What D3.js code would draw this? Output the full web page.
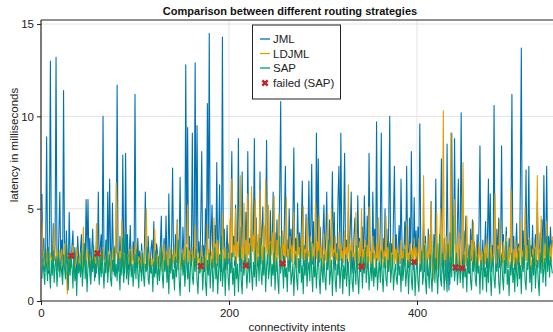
<!DOCTYPE html>
<html><head><meta charset="utf-8">
<script src="https://cdn.jsdelivr.net/npm/d3@7/dist/d3.min.js"></script>
<style>html,body{margin:0;padding:0;background:#fff;overflow:hidden}svg{display:block;font-family:"Liberation Sans",Arial,Helvetica,sans-serif}</style>
</head><body><svg id="c" width="553" height="332"></svg>
<script>
const title = "Comparison between different routing strategies";
const xLabel = "connectivity intents";
const yLabel = "latency in milliseconds";
const seriesNames = ["JML", "LDJML", "SAP"];
const seriesColors = ["#0072B2", "#E69F00", "#009E73"];
const failedLabel = "failed (SAP)";
const xTicks = [0, 200, 400];
const yTicks = [0, 5, 10, 15];

const jml = [
5.8,2.1,3.4,1.6,2.8,8.9,2.3,1.5,3.9,13.0,2.6,1.8,4.2,2.2,3.1,13.2,2.4,1.7,3.6,5.9,
2.0,3.3,1.4,11.4,2.7,1.9,3.8,2.2,1.3,4.8,2.5,1.8,3.0,3.8,1.6,2.9,2.1,1.2,3.5,2.4,
1.7,2.8,3.6,1.5,2.3,3.1,1.9,5.5,2.6,5.5,2.0,3.4,1.4,2.7,3.9,1.8,2.5,1.3,3.2,2.2,
5.9,1.7,2.9,3.6,1.5,10.0,2.4,1.9,3.3,2.1,5.9,1.6,6.6,2.8,1.9,5.3,2.3,1.4,3.0,2.6,
11.7,2.0,1.6,3.5,2.4,1.8,7.9,2.9,1.5,8.0,2.2,3.6,1.7,2.6,4.1,1.9,2.4,3.2,1.5,11.2,
2.3,1.8,3.4,2.0,2.7,1.6,3.1,2.2,1.4,2.9,5.9,2.1,1.7,3.5,2.4,1.6,2.8,3.3,1.9,4.3,
2.0,1.5,3.1,2.6,1.8,2.4,3.0,4.6,1.7,2.5,3.4,1.9,4.6,2.2,1.6,5.8,2.7,2.0,3.3,7.2,
2.4,1.8,3.6,2.1,4.4,1.7,2.9,6.7,2.3,1.9,4.0,2.6,1.5,12.8,3.1,9.4,2.0,3.5,1.8,2.7,
9.1,2.2,3.8,12.9,1.9,9.5,2.6,3.2,1.7,4.4,8.1,2.3,3.0,1.6,5.0,2.5,10.7,3.4,14.5,2.1,
3.7,5.2,1.8,2.9,4.1,2.3,7.5,1.9,3.3,6.3,2.4,1.6,14.3,2.8,3.9,1.7,2.5,4.1,2.0,3.1,
1.8,4.6,8.1,2.4,3.5,1.9,5.2,2.7,3.0,8.8,2.2,4.0,1.6,7.0,2.9,3.6,2.1,4.8,1.9,8.1,
2.6,3.4,1.8,5.5,2.7,3.9,8.8,2.1,4.5,1.9,3.2,2.6,7.0,2.0,3.8,5.1,1.7,2.9,4.2,8.7,
2.3,3.5,1.8,4.9,2.6,3.1,5.9,2.0,3.7,1.6,4.4,2.5,3.2,6.0,10.8,2.2,3.6,1.9,4.5,7.3,
2.4,3.3,1.7,5.0,2.8,3.9,2.1,4.6,8.3,2.0,3.4,1.8,5.3,2.6,3.7,2.2,4.1,6.5,1.9,3.0,
2.4,4.7,1.7,3.5,6.5,2.3,3.9,7.4,2.0,4.3,2.7,1.8,9.1,3.2,7.7,2.1,4.0,2.6,1.6,3.7,
5.2,2.2,3.4,5.9,1.8,2.9,4.4,2.3,3.6,7.0,2.0,4.8,1.7,3.1,2.5,5.6,7.3,2.2,9.1,3.0,
1.9,4.2,8.0,2.4,3.3,1.7,4.9,2.6,3.8,5.9,2.1,1.5,3.6,4.5,2.3,1.8,5.7,2.9,3.4,1.6,
2.5,4.0,2.0,5.7,3.1,1.8,4.6,2.4,8.0,3.3,2.0,1.6,5.9,2.7,3.9,1.9,9.7,2.5,3.6,1.7,
4.2,9.1,2.3,3.4,1.8,5.0,2.6,3.9,1.6,4.4,10.0,2.2,3.1,1.9,4.7,7.3,2.4,3.6,1.7,2.9,
4.1,2.0,6.6,3.3,1.6,2.6,4.3,2.2,7.3,3.0,1.8,4.5,2.4,8.1,3.2,1.7,5.6,2.5,3.8,1.9,
4.0,2.7,9.6,3.1,1.8,2.5,4.2,1.6,3.5,2.2,1.4,3.9,2.6,1.7,5.4,2.3,1.2,3.6,2.0,6.6,
1.8,3.1,1.3,2.7,4.0,7.7,2.1,1.5,3.4,2.4,1.1,8.5,2.9,0.6,3.7,2.2,9.1,1.9,3.3,8.8,
2.5,1.6,4.2,6.6,2.0,3.5,10.2,2.3,1.7,3.8,2.6,4.6,1.9,3.1,2.4,1.5,3.9,2.2,4.4,1.8,
3.2,2.5,1.6,3.6,2.1,4.1,8.4,2.4,1.7,3.3,2.0,2.8,4.3,1.8,3.5,6.6,2.3,5.8,1.6,3.0,
2.2,10.6,2.6,1.7,3.9,2.3,4.5,1.8,3.2,8.4,2.1,3.6,1.5,2.7,4.0,2.2,1.8,3.4,2.5,4.6,
11.2,2.3,3.5,1.7,2.8,4.2,2.0,3.1,1.6,6.5,13.7,2.4,3.8,1.9,2.6,7.1,2.2,3.4,7.3,1.8,
3.0,2.4,4.1,1.7,2.9,3.6,2.1,5.4,2.5,1.8,3.7,2.3,4.4,1.9,6.8,2.6,3.2,7.3,2.0,3.5,
2.4,4.0,2.8,3.3];

const ldjml = [
4.3,2.9,2.4,1.9,2.2,2.8,2.1,1.7,2.0,2.6,2.3,1.8,2.5,4.1,2.2,1.9,2.7,2.4,1.6,2.1,
2.5,2.8,1.9,2.2,3.1,2.0,1.6,0.4,2.3,2.6,1.8,2.1,2.4,3.0,2.2,1.7,2.0,2.9,2.3,1.8,
2.2,2.6,2.0,1.7,4.0,2.4,2.1,1.9,2.8,2.3,1.8,2.5,2.2,1.6,2.0,2.7,2.3,1.9,4.2,2.4,
2.0,1.8,2.6,2.2,1.7,2.9,2.3,2.0,1.6,2.4,2.1,2.7,1.9,2.2,1.5,2.8,2.4,2.0,2.6,6.4,
2.5,1.9,2.3,2.7,2.0,4.4,2.2,1.8,2.6,2.1,1.7,2.4,2.0,2.8,2.3,1.6,3.0,2.2,1.9,2.5,
3.2,2.1,1.8,2.4,2.2,1.6,2.7,2.0,2.3,1.8,2.9,5.0,2.4,1.9,2.6,2.2,1.5,2.3,2.0,1.8,
3.9,2.2,1.7,2.5,2.0,1.9,2.8,2.3,1.6,2.4,3.1,2.0,2.2,2.7,1.8,2.1,2.9,2.3,1.7,2.5,
2.1,3.0,1.9,2.3,4.3,1.8,2.6,2.2,1.7,2.8,2.4,1.9,3.2,2.1,2.5,5.2,2.0,2.7,2.3,1.9,
2.9,2.2,1.7,4.1,2.4,1.9,2.6,2.1,2.3,1.6,3.0,2.2,1.9,2.5,2.3,1.7,4.2,2.1,2.8,1.9,
2.4,2.7,1.8,4.5,2.2,3.1,2.0,3.3,2.4,1.8,2.7,2.1,4.8,2.5,1.9,2.9,2.2,1.7,2.6,2.3,
4.4,2.1,6.6,2.6,3.0,2.2,5.0,2.0,3.2,2.4,3.8,6.8,2.3,2.9,1.9,5.3,2.4,3.3,2.0,5.8,
2.5,3.1,2.0,6.2,2.7,3.5,2.1,5.5,2.8,1.9,3.6,2.4,6.0,2.2,3.0,2.0,4.1,2.6,6.6,2.9,
2.2,5.2,2.0,3.2,2.5,3.7,2.2,5.7,2.7,1.8,3.3,2.3,4.7,2.1,2.9,2.0,3.8,2.5,3.1,1.9,
5.6,2.4,2.8,1.9,3.5,2.3,3.0,2.0,4.8,2.2,2.7,1.8,3.6,2.5,2.9,2.0,3.4,2.3,5.1,2.1,
2.8,1.9,4.5,2.4,2.7,2.0,3.5,2.2,3.1,1.8,2.8,5.4,2.3,3.2,1.9,4.6,2.2,2.9,1.8,2.5,
3.6,2.2,2.7,1.9,4.7,2.3,3.0,1.8,5.0,2.4,2.8,2.0,3.5,2.2,2.6,1.8,3.7,2.4,3.1,1.9,
2.7,2.1,3.8,2.0,2.9,2.3,6.3,2.1,3.1,1.8,3.4,2.4,2.6,1.9,4.8,2.2,2.9,1.8,3.2,2.2,
5.0,2.0,2.8,2.3,3.3,1.8,3.0,2.2,5.1,2.1,2.7,1.9,3.5,2.3,2.6,1.8,3.1,2.2,4.5,2.0,
2.8,2.4,3.4,1.9,2.7,2.2,4.6,1.8,2.9,2.1,3.2,1.8,2.6,2.3,3.5,2.0,2.8,2.1,3.0,1.7,
2.5,2.2,3.3,1.8,2.7,2.3,3.0,1.9,4.3,2.1,2.6,1.8,3.1,2.3,2.8,2.0,3.4,2.2,2.9,1.8,
2.4,3.4,2.0,2.8,1.7,2.5,6.8,2.2,3.1,1.9,2.7,2.3,3.6,1.8,5.3,2.1,1.1,2.9,2.0,2.4,
4.8,1.7,2.7,2.2,5.0,1.9,2.9,10.3,2.3,1.8,3.5,2.5,1.6,3.2,2.1,9.1,2.4,1.9,2.8,5.5,
2.1,3.1,1.8,2.5,3.7,2.2,1.7,2.9,7.5,2.0,2.6,1.9,4.6,2.3,1.6,2.8,2.1,3.3,1.9,4.3,
2.4,1.9,2.9,2.1,1.7,3.2,2.3,1.9,2.7,2.4,1.6,3.0,2.0,3.4,2.2,1.8,2.8,2.1,3.1,1.9,
2.3,2.8,5.8,2.0,1.8,3.0,2.3,4.4,1.9,2.6,2.1,3.2,1.7,2.4,3.5,2.2,1.9,2.9,2.1,6.0,
2.3,1.9,2.8,2.0,3.3,1.7,2.5,2.9,2.1,4.4,1.9,2.7,2.3,1.8,5.1,2.2,3.0,1.9,2.5,3.4,
2.1,1.7,2.8,2.3,3.2,1.9,2.4,6.8,2.1,2.8,1.8,4.6,2.3,2.6,1.9,3.1,2.2,4.3,1.9,2.7,
2.4,3.0,2.1,3.5];

const sap = [
1.2,2.3,1.5,0.9,2.6,1.8,1.1,2.9,1.6,0.7,2.2,1.4,2.7,1.0,1.9,2.4,0.8,1.7,2.8,1.3,
2.1,1.5,0.9,2.5,1.8,1.2,3.2,1.6,0.6,2.3,1.4,2.4,1.9,0.7,2.6,1.1,1.8,0.3,2.4,1.5,
2.0,1.3,2.7,0.8,1.7,3.1,1.2,2.2,0.5,1.9,2.6,1.4,0.9,2.3,1.6,3.0,1.1,2.0,1.5,2.6,
1.8,0.9,2.4,1.3,2.8,1.7,0.7,2.1,1.5,3.3,1.0,1.9,2.5,1.2,0.8,2.2,1.6,2.9,1.3,2.0,
1.1,2.6,1.7,0.6,2.3,1.4,3.4,1.0,1.8,3.6,1.2,2.4,0.9,1.7,2.7,1.3,2.0,0.8,1.6,2.5,
1.2,2.8,1.5,0.7,2.2,1.8,1.1,2.6,1.4,0.8,2.0,1.6,2.9,1.2,0.9,2.3,1.5,1.9,0.5,2.1,
1.3,2.7,1.7,0.9,2.4,1.1,1.8,3.0,1.4,0.7,2.2,1.6,2.5,1.0,1.9,0.4,2.3,1.5,2.8,1.2,
1.7,0.6,2.4,1.3,2.0,3.3,1.1,0.3,1.9,2.6,1.4,2.2,0.8,1.6,2.9,1.2,2.1,0.5,1.8,2.5,
1.3,0.9,2.3,1.6,2.8,1.1,0.4,2.0,1.5,1.9,2.4,0.6,1.7,2.7,1.0,0.3,2.2,1.4,2.6,0.7,
1.8,2.3,0.5,1.5,2.9,1.2,2.0,0.4,1.7,2.5,1.1,3.5,0.8,1.6,2.3,0.3,1.9,2.7,1.3,0.6,
2.1,1.5,2.6,0.9,1.8,0.3,2.4,1.2,2.0,0.5,1.7,2.8,1.1,0.4,2.2,1.4,2.5,1.9,0.7,1.6,
2.3,1.0,3.0,1.5,0.6,2.1,1.3,2.7,0.8,1.8,2.4,1.1,3.4,1.6,0.9,2.2,1.4,2.9,0.5,1.9,
2.5,1.2,1.7,3.1,0.8,2.0,1.4,2.6,0.6,1.8,2.3,1.1,0.4,3.5,1.5,2.1,1.9,0.7,2.4,1.3,
1.8,0.5,2.2,1.6,2.8,0.9,1.4,2.0,0.3,1.7,2.5,1.2,0.6,2.3,1.5,3.0,1.0,1.9,0.4,2.2,
1.4,2.6,0.8,1.7,2.1,1.1,3.2,1.5,0.5,2.4,1.3,2.0,0.7,1.8,2.7,1.2,0.4,2.3,1.6,1.0,
2.5,1.3,0.6,2.1,1.7,3.3,0.9,1.5,2.2,0.3,1.8,2.6,1.1,0.5,2.0,1.4,2.8,0.7,1.6,2.3,
0.4,1.9,1.2,2.5,0.8,1.6,2.1,0.3,1.4,2.7,1.0,0.5,2.2,1.7,0.9,3.0,1.3,0.4,1.9,2.4,
1.9,0.7,2.2,1.5,2.9,1.0,1.7,2.4,0.6,1.4,2.0,1.1,2.6,0.8,1.8,1.3,2.3,0.6,1.6,2.1,
1.0,2.7,1.4,0.5,1.9,2.4,1.2,0.8,2.2,1.6,3.1,1.0,1.7,2.5,0.6,1.5,2.0,1.2,0.9,2.6,
1.4,1.9,0.5,2.3,1.1,1.7,2.8,0.8,1.5,2.2,0.4,1.8,2.5,1.2,0.6,2.0,2.1,0.3,1.6,2.4,
1.1,0.5,2.0,1.6,2.7,0.9,1.4,3.0,1.2,0.4,2.2,1.7,0.7,2.5,1.3,0.5,1.9,3.2,1.0,2.3,
1.5,0.4,2.0,3.6,1.2,0.8,2.6,1.7,0.6,2.2,1.4,0.5,3.1,1.8,0.9,2.4,1.3,4.6,2.0,1.1,
1.8,2.6,0.9,1.6,2.2,1.0,1.9,1.8,0.7,2.5,1.3,1.8,0.5,2.3,1.5,3.0,1.1,0.6,2.1,1.6,
2.7,1.2,0.8,2.4,1.5,1.9,0.4,2.2,1.7,0.6,2.6,1.3,1.8,0.5,2.3,1.0,2.9,1.5,0.3,1.9,
2.4,1.2,0.7,2.0,1.6,2.8,1.0,0.4,1.8,2.5,1.3,0.6,2.2,1.5,3.2,0.9,1.7,0.3,2.1,1.4,
2.6,1.0,1.8,0.5,2.3,1.5,0.8,2.7,1.2,1.9,0.4,2.4,1.6,3.0,1.1,0.6,2.1,1.7,3.3,1.0,
1.9,0.5,2.5,1.4,2.8,0.7,1.8,2.2,1.1,0.3,2.6,1.5,3.4,1.0,1.7,2.3,0.8,3.5,1.6,2.9,
1.3,2.4,1.9,1.5];

const failedX = [32, 60, 170, 218, 257, 341, 397, 441, 448];
const failedY = [2.45, 2.58, 1.89, 1.92, 2.04, 1.86, 2.11, 1.82, 1.77];

const L = 41, R = 553, T = 20, B = 301;
const svg = d3.select("#c");
const x = d3.scaleLinear().domain([0, 544.7]).range([L, R]);
const y = d3.scaleLinear().domain([0, 15.22]).range([B, T]);

svg.append("g").selectAll("line").data(yTicks.filter(d => d > 0)).join("line")
  .attr("x1", L).attr("x2", R).attr("y1", d => y(d)).attr("y2", d => y(d))
  .attr("stroke", "#e3e3e3").attr("stroke-width", 1);
svg.append("g").selectAll("line").data(xTicks.filter(d => d > 0)).join("line")
  .attr("y1", T).attr("y2", B).attr("x1", d => x(d)).attr("x2", d => x(d))
  .attr("stroke", "#e3e3e3").attr("stroke-width", 1);

svg.append("clipPath").attr("id", "clip").append("rect")
  .attr("x", L).attr("y", T).attr("width", R - L).attr("height", B - T);

const data = [jml, ldjml, sap];
const line = d3.line().x((d, i) => x(i + 1)).y(d => y(d));
const gl = svg.append("g").attr("clip-path", "url(#clip)");
data.forEach((s, k) => {
  gl.append("path").datum(s).attr("d", line).attr("fill", "none")
    .attr("stroke", seriesColors[k]).attr("stroke-width", 1.1).attr("stroke-linejoin", "round");
});

const cross = d3.symbol().type(d3.symbolCross).size(32);
const failColor = "#c0282d";
gl.selectAll(".f").data(failedX).join("path").attr("class", "f")
  .attr("d", cross).attr("fill", failColor)
  .attr("transform", (d, i) => `translate(${x(d)},${y(failedY[i])}) rotate(45)`);

svg.append("line").attr("x1", L).attr("x2", R).attr("y1", T).attr("y2", T).attr("stroke", "#222").attr("stroke-width", 1.2);
svg.append("line").attr("x1", L).attr("x2", R).attr("y1", B).attr("y2", B).attr("stroke", "#222").attr("stroke-width", 1.2);
svg.append("line").attr("x1", L).attr("x2", L).attr("y1", T).attr("y2", B).attr("stroke", "#222").attr("stroke-width", 1.2);

const xa = svg.append("g").attr("transform", `translate(0,${B})`)
  .call(d3.axisBottom(x).tickValues(xTicks).tickSize(4).tickPadding(4).tickFormat(d3.format("d")));
const ya = svg.append("g").attr("transform", `translate(${L},0)`)
  .call(d3.axisLeft(y).tickValues(yTicks).tickSize(4).tickPadding(3).tickFormat(d3.format("d")));
[xa, ya].forEach(a => {
  a.select(".domain").remove();
  a.selectAll("line").attr("stroke", "#222");
  a.selectAll("text").attr("font-size", 11.5).attr("fill", "#222")
    .attr("font-family", '"Liberation Sans", Arial, sans-serif');
});

svg.append("text").attr("x", 290).attr("y", 15).attr("text-anchor", "middle")
  .attr("font-size", 11).attr("font-weight", "bold").attr("fill", "#111").text(title);
svg.append("text").attr("x", (L + R) / 2).attr("y", 331).attr("text-anchor", "middle")
  .attr("font-size", 11.5).attr("fill", "#222").text(xLabel);
svg.append("text").attr("transform", "translate(18,145) rotate(-90)").attr("text-anchor", "middle")
  .attr("font-size", 11.5).attr("fill", "#222").text(yLabel);

const lg = svg.append("g");
lg.append("rect").attr("x", 252.5).attr("y", 25).attr("width", 88).attr("height", 74)
  .attr("fill", "#fff").attr("stroke", "#222").attr("stroke-width", 1);
const rows = [39, 53.5, 68, 83];
seriesNames.forEach((n, k) => {
  lg.append("line").attr("x1", 260).attr("x2", 270).attr("y1", rows[k]).attr("y2", rows[k])
    .attr("stroke", seriesColors[k]).attr("stroke-width", 1.3);
  lg.append("text").attr("x", 273).attr("y", rows[k] + 4).attr("font-size", 11.5).attr("fill", "#222").text(n);
});
lg.append("path").attr("d", cross).attr("fill", failColor)
  .attr("transform", `translate(265,${rows[3]}) rotate(45)`);
lg.append("text").attr("x", 273).attr("y", rows[3] + 4).attr("font-size", 11.5).attr("fill", "#222").text(failedLabel);
</script></body></html>
